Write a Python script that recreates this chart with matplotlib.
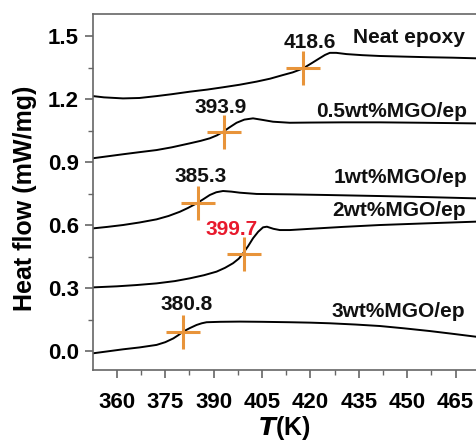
import matplotlib
matplotlib.use("Agg")
import matplotlib.pyplot as plt
from matplotlib.ticker import MultipleLocator, FormatStrFormatter

plt.rcParams['font.family'] = ['Liberation Sans', 'DejaVu Sans']

# curves: temperature (K) and heat flow (mW/mg)
neat_T = [352.6, 356, 361.9, 367, 372.3, 377, 382.6, 388, 392.9, 398, 403.3, 407.5, 411.4, 414.5, 417.6, 420.5, 422.9, 424.5, 426, 428, 431.2, 436, 441.5, 449, 457, 464, 471.3]
neat_Q = [1.214, 1.208, 1.203, 1.205, 1.214, 1.223, 1.235, 1.245, 1.256, 1.268, 1.283, 1.297, 1.314, 1.327, 1.345, 1.372, 1.395, 1.41, 1.42, 1.42, 1.414, 1.409, 1.405, 1.402, 1.399, 1.397, 1.394]

ep05_T = [352.6, 357, 361.9, 367, 372.3, 377, 382.6, 386, 388.8, 391, 392.9, 395, 397.1, 399.5, 402.2, 405, 408.4, 413.6, 420, 430, 441.5, 455, 471.3]
ep05_Q = [0.918, 0.927, 0.937, 0.947, 0.957, 0.970, 0.989, 1.001, 1.013, 1.027, 1.044, 1.066, 1.087, 1.102, 1.108, 1.101, 1.092, 1.087, 1.088, 1.089, 1.089, 1.087, 1.084]

ep1_T = [352.6, 357, 361.9, 367, 372.3, 376, 379.5, 382, 384.7, 386.8, 388.8, 390.8, 392.9, 395.5, 398.1, 403.3, 413.6, 425, 441.5, 456, 471.3]
ep1_Q = [0.584, 0.591, 0.600, 0.612, 0.627, 0.643, 0.663, 0.681, 0.703, 0.723, 0.743, 0.756, 0.762, 0.759, 0.754, 0.748, 0.746, 0.743, 0.738, 0.733, 0.727]

ep2_T = [352.6, 360, 366, 372.3, 378, 382.6, 387, 390.9, 393.5, 396, 397.8, 399.1, 400.7, 402.2, 403.8, 405.3, 406.5, 408.5, 410.5, 413.6, 420, 430, 441.5, 456, 471.3]
ep2_Q = [0.303, 0.308, 0.314, 0.322, 0.333, 0.346, 0.361, 0.378, 0.396, 0.418, 0.440, 0.465, 0.500, 0.537, 0.568, 0.589, 0.592, 0.582, 0.576, 0.576, 0.582, 0.591, 0.600, 0.608, 0.616]

ep3_T = [352.6, 357, 361.9, 367, 372.3, 375, 377.5, 379, 380.5, 382.6, 384.7, 386.3, 387.8, 392, 398.1, 405, 413.6, 420, 426, 434, 441.5, 449, 457, 464, 471.3]
ep3_Q = [-0.011, -0.002, 0.008, 0.017, 0.029, 0.042, 0.060, 0.075, 0.092, 0.109, 0.124, 0.132, 0.137, 0.139, 0.140, 0.139, 0.137, 0.135, 0.132, 0.126, 0.119, 0.108, 0.095, 0.082, 0.068]

# tangent-midpoint crosses (Tg)
tg_T = [417.6, 393.3, 385.0, 399.4, 380.5]
tg_Q = [1.348, 1.044, 0.703, 0.462, 0.092]
tg_labels = ["418.6", "393.9", "385.3", "399.7", "380.8"]
tg_label_T = [419.7, 392.2, 386.0, 395.4, 381.5]
tg_label_Q = [1.441, 1.135, 0.806, 0.552, 0.195]
tg_label_colors = ["#111111", "#111111", "#111111", "#e8192c", "#111111"]

names = ["Neat epoxy", "0.5wt%MGO/ep", "1wt%MGO/ep", "2wt%MGO/ep", "3wt%MGO/ep"]
name_T = [450.5, 445.1, 447.9, 447.5, 447.2]
name_Q = [1.465, 1.116, 0.798, 0.643, 0.163]

fig = plt.figure(figsize=(4.76, 4.42), dpi=100)
ax = fig.add_axes([93/476, 1-370/442, 1-93/476, 356/442])

for T, Q in [(neat_T, neat_Q), (ep05_T, ep05_Q), (ep1_T, ep1_Q), (ep2_T, ep2_Q), (ep3_T, ep3_Q)]:
    ax.plot(T, Q, color="black", lw=1.4)

ax.plot(tg_T, tg_Q, linestyle="none", marker="+", markersize=24, markeredgewidth=2.2, color="#e8943a")

for i in range(len(tg_labels)):
    ax.text(tg_label_T[i], tg_label_Q[i], tg_labels[i], ha="center", va="baseline",
            fontsize=15, fontweight="bold", color=tg_label_colors[i])
for i in range(len(names)):
    ax.text(name_T[i], name_Q[i], names[i], ha="center", va="baseline",
            fontsize=15, fontweight="bold", color="#111111")

ax.set_xlim(352.6, 471.3)
ax.set_ylim(-0.0905, 1.605)
ax.xaxis.set_major_locator(MultipleLocator(15))
ax.xaxis.set_minor_locator(MultipleLocator(7.5))
ax.yaxis.set_major_locator(MultipleLocator(0.3))
ax.yaxis.set_minor_locator(MultipleLocator(0.15))
ax.yaxis.set_major_formatter(FormatStrFormatter("%.1f"))

ax.tick_params(which="major", direction="out", length=6, width=1.2, color="#666666")
ax.tick_params(which="minor", direction="out", length=3.5, width=1.0, color="#666666")
ax.tick_params(axis="x", which="major", pad=10)
ax.tick_params(axis="y", which="major", pad=4)
for lab in ax.get_xticklabels() + ax.get_yticklabels():
    lab.set_fontsize(16)
    lab.set_fontweight("bold")

ax.spines["right"].set_visible(False)
for s in ["left", "top", "bottom"]:
    ax.spines[s].set_color("#666666")
    ax.spines[s].set_linewidth(1.2)

ax.set_ylabel("Heat flow (mW/mg)", fontsize=18, fontweight="bold")
ax.yaxis.set_label_coords(-0.146, 0.482)
ax.set_xlabel(r"$\boldsymbol{T}$(K)", fontsize=18, fontweight="bold")
ax.xaxis.set_label_coords(0.5, -0.125)

fig.savefig("out.png", dpi=100)
